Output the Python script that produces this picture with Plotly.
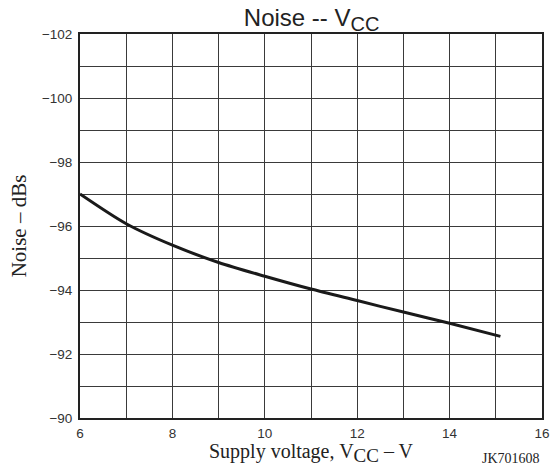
import plotly.graph_objects as go

# Data
supply_voltage = [6, 7, 8, 9, 10, 11, 12, 13, 14, 15.1]
noise_db = [-97.0, -96.07, -95.40, -94.86, -94.43, -94.03, -93.67, -93.31, -92.96, -92.55]

x_ticks = [6, 8, 10, 12, 14, 16]
y_ticks = [-102, -100, -98, -96, -94, -92, -90]

sans = "Liberation Sans, Arial, sans-serif"
serif = "Liberation Serif, Times New Roman, serif"

fig = go.Figure()
fig.add_trace(go.Scatter(
    x=supply_voltage, y=noise_db, mode="lines",
    line=dict(color="#1a1a1a", width=3, shape="spline", smoothing=0.8),
    showlegend=False, hoverinfo="skip",
))

fig.update_layout(
    width=554, height=466,
    margin=dict(l=80, r=12, t=34, b=48, autoexpand=False),
    paper_bgcolor="white", plot_bgcolor="white",
    title=dict(text="Noise -- V<sub><span style='font-size:20px'>CC</span></sub>",
               x=0.5625, xanchor="center",
               y=0.962, yanchor="middle", yref="container", automargin=False,
               font=dict(family=sans, size=24, color="#222")),
    font=dict(family=sans, size=13, color="#333"),
)

fig.update_xaxes(
    range=[6, 16], tickvals=x_ticks, ticktext=[str(v) for v in x_ticks],
    showgrid=True, gridcolor="#3a3a3a", gridwidth=1,
    minor=dict(dtick=1, tick0=6, showgrid=True, gridcolor="#3a3a3a", gridwidth=1),
    showline=True, linecolor="#222", linewidth=2, mirror=True,
    ticks="", ticklabelstandoff=2, zeroline=False, automargin=False,
    tickfont=dict(family=sans, size=13.5, color="#333"),
    title=dict(text="Supply voltage, V<sub><span style='font-size:19px'>CC</span></sub> – V",
               standoff=2,
               font=dict(family=serif, size=20, color="#222")),
)

fig.update_yaxes(
    range=[-90, -102], tickvals=y_ticks,
    showgrid=True, gridcolor="#3a3a3a", gridwidth=1,
    minor=dict(dtick=1, tick0=-102, showgrid=True, gridcolor="#3a3a3a", gridwidth=1),
    showline=True, linecolor="#222", linewidth=2, mirror=True,
    ticks="", ticklabelstandoff=3, zeroline=False, automargin=False,
    tickfont=dict(family=sans, size=13.5, color="#333"),
    title=dict(text="Noise – dBs", standoff=10,
               font=dict(family=serif, size=21, color="#222")),
)

fig.add_annotation(
    text="JK701608", xref="paper", yref="paper", x=1.0, y=-0.08,
    xanchor="right", yanchor="top", showarrow=False,
    font=dict(family=serif, size=14, color="#222"),
)

fig.write_html(
    "out.html",
    config={"displayModeBar": False},
    post_script="document.body.style.margin='0px';document.body.style.overflow='hidden';",
)
